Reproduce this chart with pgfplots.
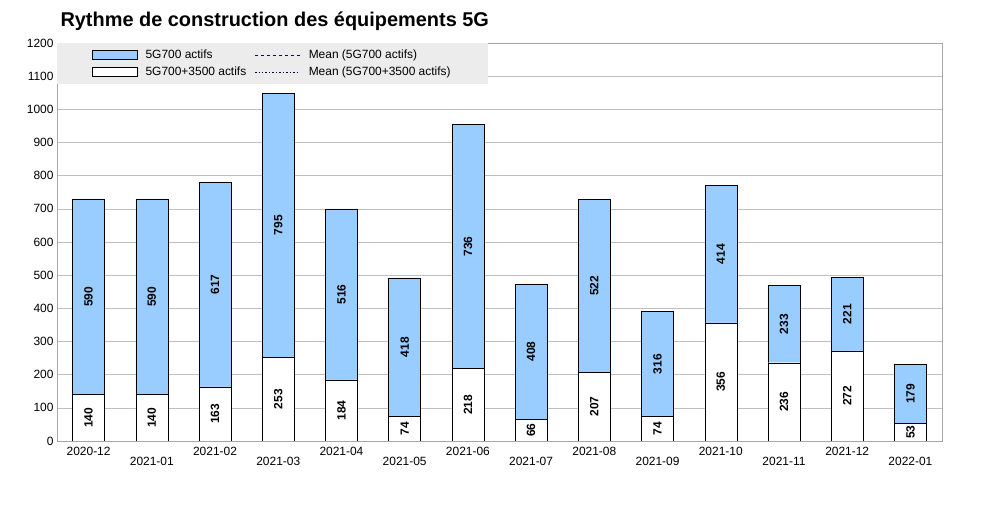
\documentclass[border=0pt]{standalone}
\usepackage{pgfplots}
\pgfplotsset{compat=1.18}
\usepackage{fontspec}
\setmainfont{Liberation Sans}
\definecolor{barblue}{RGB}{153,204,255}
\begin{document}
\begin{tikzpicture}[x=1bp,y=1bp]
\useasboundingbox (-57bp,-67bp) rectangle (928bp,441bp);
\pgfplotsset{common/.style={
  scale only axis, width=885bp, height=398bp,
  xmin=-0.5, xmax=13.5, ymin=0, ymax=1200,
  at={(0,0)}, anchor=south west,
  /pgf/number format/assume math mode=true,
  /pgf/number format/1000 sep={}}}
\begin{axis}[common,
  ybar stacked, bar width=32bp,
  ytick={0,100,...,1200},
  ymajorgrids, grid style={gray!50},
  axis line style={gray!70}, tick style={draw=none},
  xtick={0,...,13},
  xticklabels={2020-12,{\\2021-01},2021-02,{\\2021-03},2021-04,{\\2021-05},2021-06,{\\2021-07},2021-08,{\\2021-09},2021-10,{\\2021-11},2021-12,{\\2022-01}},
  xticklabel style={align=center,font=\fontsize{12}{18}\selectfont,anchor=north,yshift=-3bp},
  yticklabel style={font=\fontsize{12}{14}\selectfont},
  legend style={at={(0,1)},anchor=north west,fill=gray!15,draw=none,
    font=\fontsize{12}{14}\selectfont,legend columns=2,transpose legend,
    column sep=6bp,inner xsep=35bp,inner ysep=5bp,row sep=3bp},
  legend cell align=left,
  legend image code/.code={\draw[#1] (0bp,-4bp) rectangle (45bp,5bp);},
]
\addplot[fill=white,draw=black,forget plot] coordinates {(0,140)(1,140)(2,163)(3,253)(4,184)(5,74)(6,218)(7,66)(8,207)(9,74)(10,356)(11,236)(12,272)(13,53)};
\addplot[fill=barblue,draw=black,forget plot] coordinates {(0,590)(1,590)(2,617)(3,795)(4,516)(5,418)(6,736)(7,408)(8,522)(9,316)(10,414)(11,233)(12,221)(13,179)};
\addlegendimage{fill=barblue,draw=black}
\addlegendimage{fill=white,draw=black}
\addlegendimage{legend image code/.code={\draw[blue!60!black,dashed] (0bp,0bp) -- (45bp,0bp);}}
\addlegendimage{legend image code/.code={\draw[blue!20!black,dotted,line width=1.5pt] (0bp,0bp) -- (45bp,0bp);}}
\legend{5G700 actifs,5G700+3500 actifs,Mean (5G700 actifs),Mean (5G700+3500 actifs)}
\end{axis}
\begin{axis}[common, hide axis,
  nodes near coords, point meta=explicit,
  every node near coord/.append style={rotate=90,anchor=center,font=\bfseries\fontsize{12}{14}\selectfont}]
\addplot[draw=none,mark=none] coordinates {(0,70)[140](1,70)[140](2,81.5)[163](3,126.5)[253](4,92)[184](5,37)[74](6,109)[218](7,33)[66](8,103.5)[207](9,37)[74](10,178)[356](11,118)[236](12,136)[272](13,26.5)[53]};
\addplot[draw=none,mark=none] coordinates {(0,435)[590](1,435)[590](2,471.5)[617](3,650.5)[795](4,442)[516](5,283)[418](6,586)[736](7,270)[408](8,468)[522](9,232)[316](10,563)[414](11,352.5)[233](12,382.5)[221](13,142.5)[179]};
\end{axis}
\node[anchor=west,font=\bfseries\fontsize{20}{22}\selectfont] at (0bp,420bp) {Rythme de construction des équipements 5G};
\end{tikzpicture}
\end{document}
